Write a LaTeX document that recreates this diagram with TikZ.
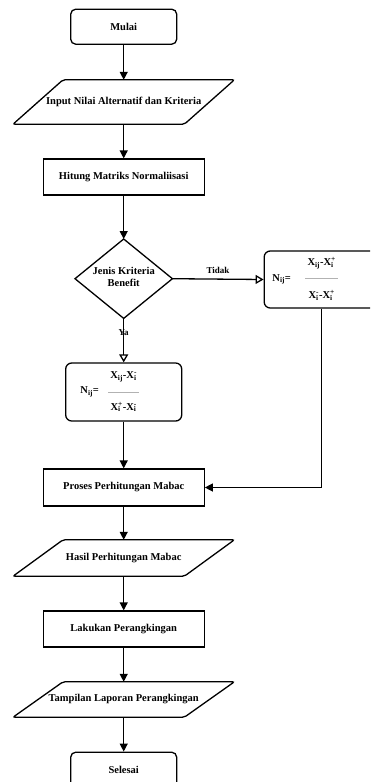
\documentclass[tikz,border=0pt]{standalone}
\usepackage{fontspec}
\setmainfont{Liberation Serif}
\usetikzlibrary{arrows.meta,calc,positioning}
\newcommand\xsupsub[2]{\setbox0\hbox{\textsuperscript{#1}}\setbox2\hbox{\textsubscript{#2}}\ifdim\wd0>\wd2 \rlap{\box2}\box0 \else \rlap{\box0}\box2\fi}
\begin{document}
\begin{tikzpicture}[x=1pt,y=-1pt,
  every node/.style={font=\fontsize{10.5}{12}\selectfont\bfseries, inner sep=0pt},
  lw/.style={line width=1.3pt},
  termbox/.style={lw, draw, rounded corners=5pt, minimum width=106pt, minimum height=35pt},
  procbox/.style={lw, draw, minimum width=161pt, minimum height=36pt},
  paranode/.style={minimum width=171pt, minimum height=36pt},
  formbox/.style={lw, draw, rounded corners=6pt, minimum width=116pt, minimum height=58pt},
  arr/.style={lw, -{Triangle[length=8pt,width=8pt]}},
  oarr/.style={lw, -{Triangle[open,length=8pt,width=9pt]}},
  lbl/.style={font=\fontsize{9}{10}\selectfont\bfseries},
  fracline/.style={draw=gray!60, line width=0.8pt}
]
\useasboundingbox (0,0) rectangle (370,782);
\clip (0,0) rectangle (370,782);
\fill[white] (0,0) rectangle (370,782);

\node[termbox] (mulai) at (123.7,26.7) {Mulai};
\node[paranode, minimum height=44pt] (inp) at (123.7,102) {Input Nilai Alternatif dan Kriteria};
\node[procbox] (hit) at (123.7,177) {Hitung Matriks Normaliisasi};
\node[minimum width=97pt, minimum height=79pt] (dia) at (123.7,278.7) {};
\node[align=center] (diat) at (123.7,277) {Jenis Kriteria\\Benefit};
\node[formbox, minimum width=115pt, minimum height=57pt] (rb) at (321.7,279.5) {};
\node[formbox] (lb) at (123.7,392) {};
\node[procbox, minimum height=37pt] (pro) at (123.7,487.5) {Proses Perhitungan Mabac};
\node[paranode] (has) at (123.7,558) {Hasil Perhitungan Mabac};
\node[procbox] (lak) at (123.7,629) {Lakukan Perangkingan};
\node[paranode, minimum height=35pt] (tam) at (123.7,699.5) {Tampilan Laporan Perangkingan};
\node[termbox] (sel) at (123.7,769.7) {Selesai};

% parallelograms
\foreach \n in {inp,has,tam}{
  \draw[lw, rounded corners=2pt] ($(\n.north west)+(25,0)$) -- ($(\n.north east)+(25,0)$)
    -- ($(\n.south east)+(-25,0)$) -- ($(\n.south west)+(-25,0)$) -- cycle;
}
% diamond
\draw[lw] (dia.north) -- (dia.east) -- (dia.south) -- (dia.west) -- cycle;

% formula right box
\node (rN) at ($(rb.center)+(-40,0)$) {N\textsubscript{ij}=};
\node (rnum) at ($(rb.center)+(0,-16)$) {X\textsubscript{ij}-X\xsupsub{+}{i}};
\node (rden) at ($(rb.center)+(0,16)$) {X\xsupsub{-}{i}-X\xsupsub{+}{i}};
\coordinate (rl1) at ($(rb.center)+(-16.5,-1)$);
\coordinate (rl2) at ($(rb.center)+(16.5,-1)$);
\draw[fracline] (rl1) -- (rl2);

% formula left box
\node (lN) at ($(lb.center)+(-34,0)$) {N\textsubscript{ij}=};
\node (lnum) at ($(lb.center)+(0,-15)$) {X\textsubscript{ij}-X\xsupsub{-}{i}};
\node (lden) at ($(lb.center)+(0,15)$) {X\xsupsub{+}{i}-X\xsupsub{-}{i}};
\coordinate (ll1) at ($(lb.center)+(-15.5,0)$);
\coordinate (ll2) at ($(lb.center)+(15.5,0)$);
\draw[fracline] (ll1) -- (ll2);

% connectors
\draw[arr] (mulai) -- (inp);
\draw[arr] (inp) -- (hit);
\draw[arr] (hit) -- (dia.north);
\draw[oarr] (dia.east) -- node[lbl, pos=0.5, above=5pt] {Tidak} (rb.west);
\draw[oarr] (dia.south) -- node[lbl, pos=0.33] {Ya} (lb.north);
\draw[arr] (lb) -- (pro);
\draw[arr] (rb.south) |- (pro.east);
\draw[arr] (pro) -- (has);
\draw[arr] (has) -- (lak);
\draw[arr] (lak) -- (tam);
\draw[arr] (tam) -- (sel);
\end{tikzpicture}
\end{document}
